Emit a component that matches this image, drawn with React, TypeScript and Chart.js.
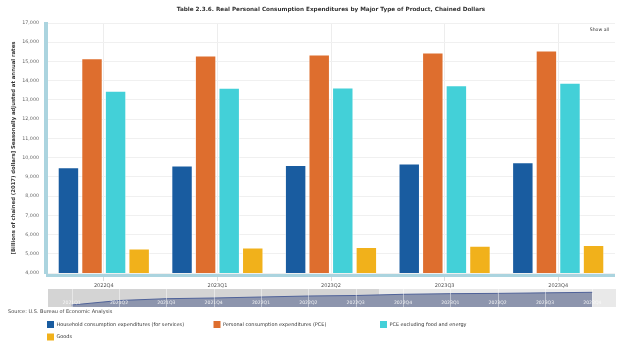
import React, { useEffect, useRef } from 'react';
import { Chart, registerables } from 'chart.js';

Chart.register(...registerables);

const categories = ['2022Q4', '2023Q1', '2023Q2', '2023Q3', '2023Q4'];
const servicesValues = [9501, 9584, 9620, 9690, 9760];
const pceValues = [15173, 15313, 15365, 15470, 15573];
const pceExFoodEnergyValues = [13476, 13632, 13650, 13757, 13891];
const goodsValues = [5277, 5330, 5350, 5417, 5453];
const seriesLabels = [
  'Household consumption expenditures (for services)',
  'Personal consumption expenditures (PCE)',
  'PCE excluding food and energy',
  'Goods',
];
const seriesColors = ['#195ca0', '#de6e2e', '#43d0d8', '#f1b11b'];
const yMin = 4000;
const yMax = 17000;
const yStep = 1000;

const navLabels = [
  '2021Q1', '2021Q2', '2021Q3', '2021Q4',
  '2022Q1', '2022Q2', '2022Q3', '2022Q4',
  '2023Q1', '2023Q2', '2023Q3', '2023Q4',
];
const navValues = [8110, 8695, 8930, 9020, 9150, 9280, 9345, 9501, 9584, 9620, 9690, 9760];
const navMin = 7850;
const navMax = 10190;
const navSelectedStart = 7;

const titleText = 'Table 2.3.6. Real Personal Consumption Expenditures by Major Type of Product, Chained Dollars';
const yTitleText = '[Billions of chained (2017) dollars] Seasonally adjusted at annual rates';
const sourceText = 'Source: U.S. Bureau of Economic Analysis';
const showAllText = 'Show all';

const FONT = '"DejaVu Sans", Verdana, sans-serif';
const AXIS_BLUE = '#abd4df';

const mainDecor = {
  id: 'mainDecor',
  afterDatasetsDraw(chart: any) {
    const { ctx, chartArea: ca } = chart;
    ctx.save();
    ctx.fillStyle = AXIS_BLUE;
    ctx.fillRect(ca.left - 3, ca.top - 1, 4, ca.bottom - ca.top + 2);
    ctx.fillRect(ca.left - 1, ca.bottom + 1, ca.right - ca.left + 1, 3);
    ctx.restore();
  },
  afterDraw(chart: any) {
    const { ctx, chartArea: ca } = chart;
    ctx.save();
    ctx.font = `4.6px ${FONT}`;
    ctx.fillStyle = '#333';
    ctx.textAlign = 'right';
    ctx.textBaseline = 'middle';
    ctx.fillText(showAllText, ca.right - 6, ca.top + 7);
    ctx.textAlign = 'left';
    ctx.font = `5px ${FONT}`;
    ctx.fillStyle = '#444';
    ctx.fillText(sourceText, 8, 312);
    const cols = [ca.left, ca.left + 166.5, ca.left + 333];
    const rows = [321, 333.5];
    chart.data.datasets.forEach((ds: any, i: number) => {
      const cx = cols[i % 3];
      const ry = rows[Math.floor(i / 3)];
      ctx.fillStyle = ds.backgroundColor;
      ctx.fillRect(cx, ry, 7, 7);
      ctx.fillStyle = '#333';
      ctx.font = `4.95px ${FONT}`;
      ctx.textBaseline = 'middle';
      ctx.fillText(ds.label, cx + 9.5, ry + 3.7);
    });
    ctx.restore();
  },
};

const navDecor = {
  id: 'navDecor',
  beforeDatasetsDraw(chart: any) {
    const { ctx, chartArea: ca, scales } = chart;
    const x = scales.x;
    const split = (x.getPixelForValue(navSelectedStart - 1) + x.getPixelForValue(navSelectedStart)) / 2;
    ctx.save();
    ctx.fillStyle = '#d4d4d4';
    ctx.fillRect(ca.left, ca.top, split - ca.left, ca.bottom - ca.top);
    ctx.fillStyle = '#e9e9e9';
    ctx.fillRect(split, ca.top, ca.right - split, ca.bottom - ca.top);
    ctx.restore();
  },
  afterDatasetsDraw(chart: any) {
    const { ctx, chartArea: ca, scales } = chart;
    const x = scales.x;
    ctx.save();
    ctx.strokeStyle = 'rgba(255,255,255,0.45)';
    ctx.lineWidth = 1;
    navLabels.forEach((_, i) => {
      const px = Math.round(x.getPixelForValue(i)) + 0.5;
      ctx.beginPath();
      ctx.moveTo(px, ca.top);
      ctx.lineTo(px, ca.bottom);
      ctx.stroke();
    });
    ctx.font = `4.6px ${FONT}`;
    ctx.fillStyle = 'rgba(250,250,250,0.92)';
    ctx.textAlign = 'center';
    ctx.textBaseline = 'middle';
    navLabels.forEach((lab, i) => {
      ctx.fillText(lab, x.getPixelForValue(i), ca.bottom - 4.5);
    });
    ctx.restore();
  },
};

export default function App() {
  const mainRef = useRef<HTMLCanvasElement>(null);
  const navRef = useRef<HTMLCanvasElement>(null);

  useEffect(() => {
    const seriesData = [servicesValues, pceValues, pceExFoodEnergyValues, goodsValues];
    const main = new Chart(mainRef.current as HTMLCanvasElement, {
      type: 'bar',
      data: {
        labels: categories,
        datasets: seriesData.map((d, i) => ({
          label: seriesLabels[i],
          data: d,
          backgroundColor: seriesColors[i],
          borderColor: 'rgba(255,255,255,0.55)',
          borderWidth: 1,
          categoryPercentage: 0.83,
          barPercentage: 0.91,
        })),
      },
      options: {
        responsive: false,
        animation: false,
        events: [],
        layout: { padding: { left: 0, right: 9, top: 0, bottom: 0 } },
        plugins: {
          legend: { display: false },
          tooltip: { enabled: false },
          title: {
            display: true,
            text: titleText,
            fullSize: false,
            color: '#333',
            font: { family: FONT, size: 5.7, weight: 'bold', lineHeight: 1.2 },
            padding: { top: 6.2, bottom: 9.96 },
          },
        },
        scales: {
          x: {
            offset: true,
            grid: { offset: false, color: '#ededed', tickColor: '#dcdcdc', tickLength: 8 },
            border: { display: false },
            ticks: {
              font: { family: FONT, size: 5 },
              color: '#555',
              padding: 2,
              maxRotation: 0,
              autoSkip: false,
            },
            afterFit: (s: any) => {
              s.height = 81;
            },
          },
          y: {
            min: yMin,
            max: yMax,
            grid: { color: '#f0f0f0', drawTicks: false },
            border: { display: false },
            ticks: {
              stepSize: yStep,
              font: { family: FONT, size: 4.8 },
              color: '#666',
              padding: 8,
              callback: (v: any) => Number(v).toLocaleString('en-US'),
            },
            title: {
              display: true,
              text: yTitleText,
              color: '#333',
              font: { family: FONT, size: 5.3, weight: 'bold' },
              padding: { top: 10, bottom: 0 },
            },
            afterFit: (s: any) => {
              s.width = 47;
            },
          },
        },
      } as any,
      plugins: [mainDecor],
    });

    const nav = new Chart(navRef.current as HTMLCanvasElement, {
      type: 'line',
      data: {
        labels: navLabels,
        datasets: [
          {
            data: navValues,
            borderColor: '#4f6299',
            borderWidth: 1,
            backgroundColor: '#8d95ad',
            fill: 'start',
            pointRadius: 0,
            tension: 0,
          },
        ],
      },
      options: {
        responsive: false,
        animation: false,
        events: [],
        layout: { padding: { left: 48, right: 8, top: 289, bottom: 47 } },
        plugins: { legend: { display: false }, tooltip: { enabled: false } },
        scales: {
          x: { display: false, offset: true },
          y: { display: false, min: navMin, max: navMax },
        },
      } as any,
      plugins: [navDecor],
    });

    return () => {
      main.destroy();
      nav.destroy();
    };
  }, []);

  return (
    <div style={{ position: 'fixed', left: 0, top: 0, width: 624, height: 354, background: '#fff' }}>
      <canvas ref={mainRef} width={624} height={354} style={{ position: 'absolute', left: 0, top: 0 }} />
      <canvas ref={navRef} width={624} height={354} style={{ position: 'absolute', left: 0, top: 0 }} />
    </div>
  );
}
